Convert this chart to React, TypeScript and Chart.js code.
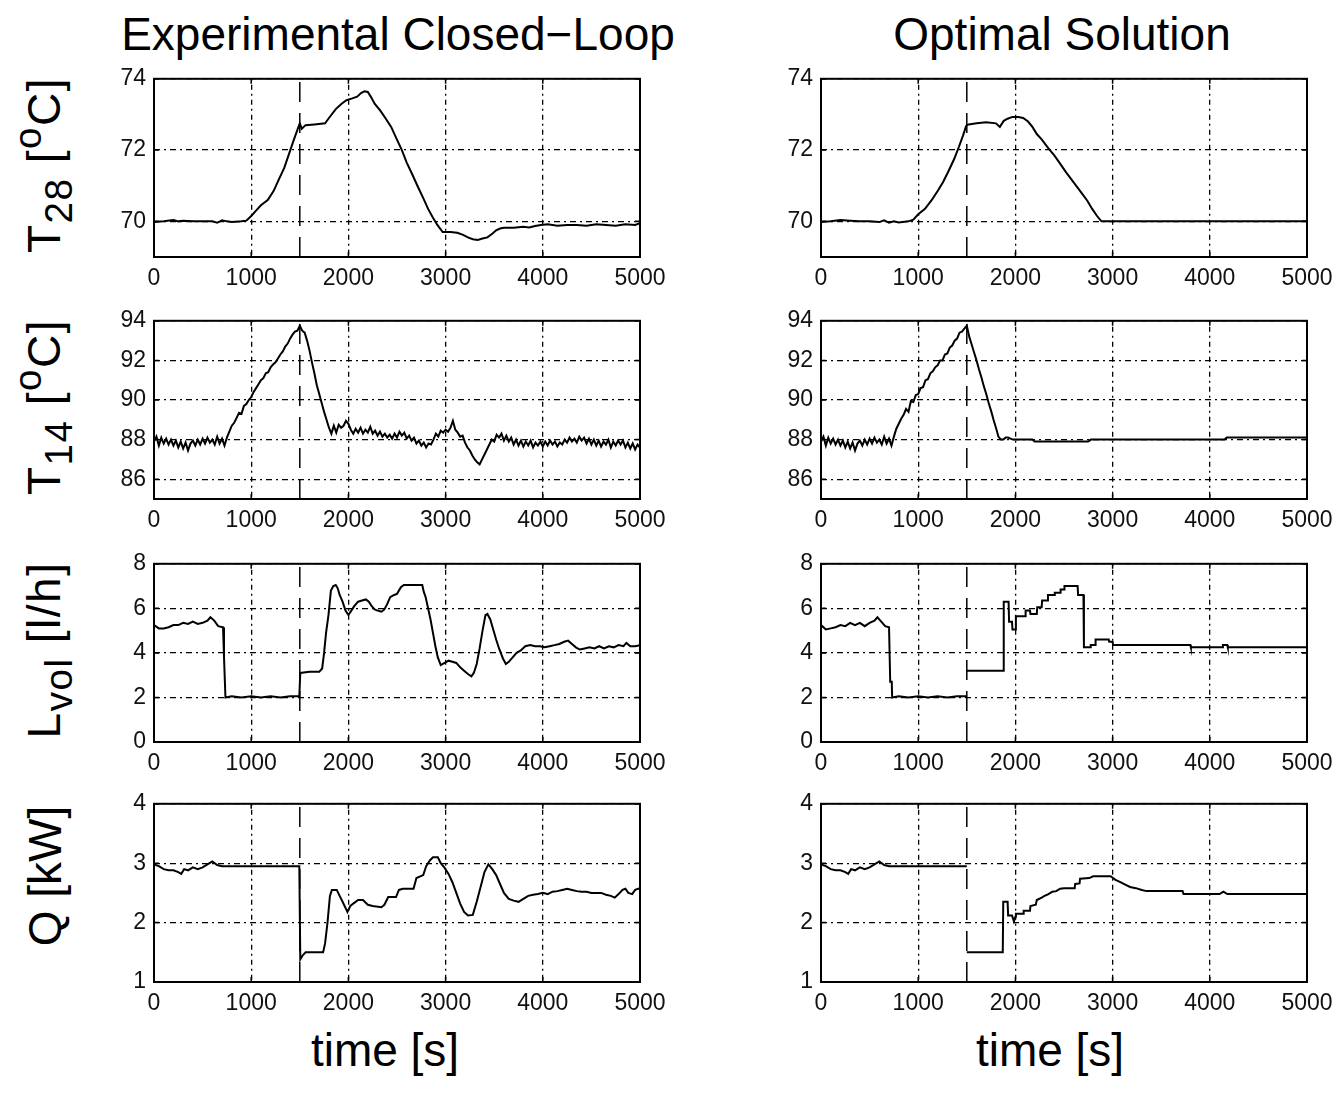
import React, { useEffect, useRef } from "react";
import { Chart, registerables } from "chart.js";

Chart.register(...registerables);

const FONT = "'Liberation Sans', Arial, Helvetica, sans-serif";
Chart.defaults.font.family = FONT;
Chart.defaults.color = "#000";

// ---------------- shared axis data ----------------
const X_TICKS = [0, 1000, 2000, 3000, 4000, 5000];
const SWITCH_TIME = 1500;

const T28_RANGE = [69, 74];
const T28_TICKS = [70, 72, 74];
const T14_RANGE = [85, 94];
const T14_TICKS = [86, 88, 90, 92, 94];
const LVOL_RANGE = [0, 8];
const LVOL_TICKS = [0, 2, 4, 6, 8];
const Q_RANGE = [1, 4];
const Q_TICKS = [1, 2, 3, 4];

const TITLES = ["Experimental Closed\u2212Loop", "Optimal Solution"];
const X_LABEL = "time [s]";

// ---------------- T28 ----------------
const T28_EXP_TIME = [
  0, 100, 200, 250, 300, 400, 500, 600, 650, 700,
  750, 800, 900, 950, 1000, 1050, 1100, 1170, 1230, 1280,
  1340, 1390, 1440, 1480, 1500, 1520, 1560, 1650, 1760, 1800,
  1870, 1930, 1980, 2040, 2090, 2130, 2165, 2200, 2230, 2270,
  2330, 2380, 2440, 2490, 2550, 2600, 2660, 2710, 2770, 2820,
  2870, 2915, 2970, 3050, 3120, 3180, 3230, 3280, 3330, 3380,
  3430, 3480, 3520, 3560, 3600, 3700, 3800, 3860, 3920, 3980,
  4050, 4150, 4250, 4350, 4450, 4550, 4650, 4750, 4850, 4950,
  5000,
];
const T28_EXP = [
  69.98, 70.0, 70.04, 70.0, 70.02, 70.0, 70.0, 70.0, 69.96, 70.03,
  70.0, 69.98, 70.0, 70.02, 70.15, 70.3, 70.45, 70.6, 70.85, 71.15,
  71.5, 71.9, 72.3, 72.6, 72.75, 72.6, 72.7, 72.72, 72.75, 72.9,
  73.15, 73.3, 73.4, 73.45, 73.5, 73.6, 73.65, 73.63, 73.5, 73.3,
  73.1, 72.9, 72.65, 72.35, 72.0, 71.65, 71.3, 71.0, 70.65, 70.35,
  70.1, 69.9, 69.7, 69.7, 69.68, 69.62, 69.55, 69.5, 69.48, 69.52,
  69.55, 69.65, 69.75, 69.8, 69.82, 69.82, 69.85, 69.83, 69.87, 69.9,
  69.92, 69.88, 69.9, 69.9, 69.88, 69.92, 69.9, 69.88, 69.92, 69.9,
  69.95,
];

const T28_OPT_TIME = [
  0, 100, 200, 300, 400, 500, 600, 650, 700, 750,
  800, 900, 950, 1000, 1070, 1140, 1200, 1255, 1310, 1370,
  1420, 1460, 1490, 1500, 1520, 1600, 1700, 1800, 1840, 1880,
  1920, 1970, 2030, 2080, 2130, 2175, 2220, 2270, 2340, 2400,
  2460, 2520, 2570, 2630, 2680, 2740, 2790, 2840, 2885, 2950,
  3500, 4000, 4500, 5000,
];
const T28_OPT = [
  69.98, 70.0, 70.04, 70.02, 70.0, 70.0, 69.98, 70.03, 69.96, 70.0,
  69.97, 70.0, 70.05, 70.2, 70.35, 70.6, 70.85, 71.1, 71.4, 71.75,
  72.1, 72.4, 72.65, 72.7, 72.72, 72.75, 72.78, 72.75, 72.65, 72.82,
  72.88, 72.93, 72.93, 72.9, 72.8, 72.65, 72.45, 72.3, 72.05, 71.85,
  71.62, 71.38, 71.2, 70.98, 70.8, 70.58, 70.35, 70.15, 70.0, 70.0,
  70.0, 70.0, 70.0, 70.0,
];

// ---------------- T14 ----------------
const T14_TIME = [
  0, 25, 50, 75, 100, 125, 150, 175, 200, 225,
  250, 275, 300, 325, 350, 375, 400, 425, 450, 475,
  500, 525, 550, 575, 600, 625, 650, 675, 700, 725,
  750, 775, 800, 825, 850, 875, 900, 925, 950, 975,
  1000, 1025, 1050, 1075, 1100, 1125, 1150, 1175, 1200, 1225,
  1250, 1275, 1300, 1325, 1350, 1375, 1400, 1425, 1450, 1475,
  1500, 1525, 1550, 1575, 1600, 1625, 1650, 1675, 1700, 1725,
  1750, 1775, 1800, 1825, 1850, 1875, 1900, 1925, 1950, 1975,
  2000, 2025, 2050, 2075, 2100, 2125, 2150, 2175, 2200, 2225,
  2250, 2275, 2300, 2325, 2350, 2375, 2400, 2425, 2450, 2475,
  2500, 2525, 2550, 2575, 2600, 2625, 2650, 2675, 2700, 2725,
  2750, 2775, 2800, 2825, 2850, 2875, 2900, 2925, 2950, 2975,
  3000, 3025, 3050, 3075, 3100, 3125, 3150, 3175, 3200, 3225,
  3250, 3275, 3300, 3325, 3350, 3375, 3400, 3425, 3450, 3475,
  3500, 3525, 3550, 3575, 3600, 3625, 3650, 3675, 3700, 3725,
  3750, 3775, 3800, 3825, 3850, 3875, 3900, 3925, 3950, 3975,
  4000, 4025, 4050, 4075, 4100, 4125, 4150, 4175, 4200, 4225,
  4250, 4275, 4300, 4325, 4350, 4375, 4400, 4425, 4450, 4475,
  4500, 4525, 4550, 4575, 4600, 4625, 4650, 4675, 4700, 4725,
  4750, 4775, 4800, 4825, 4850, 4875, 4900, 4925, 4950, 4975,
  5000,
];
const T14_EXP = [
  87.9, 88.15, 87.7, 88.1, 87.8, 88.05, 87.75, 88.0, 87.7, 87.95,
  87.6, 87.9, 87.55, 87.85, 87.45, 87.8, 87.95, 87.7, 88.0, 87.75,
  88.05, 87.8, 88.1, 87.85, 88.0, 87.75, 88.15, 87.8, 88.05, 87.7,
  88.1, 88.4, 88.7, 88.85, 89.1, 89.35, 89.3, 89.7, 89.8, 90.0,
  90.15, 90.4, 90.6, 90.8, 91.0, 91.1, 91.35, 91.4, 91.65, 91.8,
  91.9, 92.1, 92.3, 92.45, 92.7, 92.85, 93.1, 93.3, 93.45, 93.5,
  93.75, 93.5, 93.4, 93.0, 92.5, 91.9, 91.35, 90.75, 90.3, 89.85,
  89.4, 89.0, 88.6, 88.3, 88.7, 88.35, 88.75, 88.6, 88.7, 88.95,
  88.8, 88.5, 88.3, 88.55, 88.35, 88.6, 88.3, 88.5, 88.35, 88.65,
  88.3, 88.45, 88.2, 88.4, 88.15, 88.3, 88.1, 88.25, 88.05, 88.3,
  88.1, 88.4, 88.2, 88.35, 88.05, 88.2, 87.95, 88.1, 87.8, 87.95,
  87.7, 87.85, 87.6, 87.8, 87.75, 88.0, 88.3, 88.15, 88.45, 88.35,
  88.5, 88.4, 88.6, 88.95, 88.5, 88.35, 88.15, 88.2, 87.85, 87.6,
  87.45, 87.2, 87.0, 86.85, 86.75, 87.0, 87.25, 87.5, 87.75, 88.0,
  87.9, 88.25, 88.1, 88.3, 87.95, 88.2, 87.9, 88.1, 87.75, 88.0,
  87.7, 87.95, 87.65, 87.9, 87.7, 87.95, 87.6, 87.85, 87.7, 87.9,
  87.65, 87.9, 87.7, 87.95, 87.75, 87.9, 87.65, 87.85, 87.75, 88.0,
  87.85, 88.1, 87.9, 88.05, 87.85, 88.15, 87.95, 88.1, 87.8, 88.05,
  87.75, 88.0, 87.7, 87.95, 87.65, 87.9, 87.75, 88.0, 87.6, 87.9,
  87.7, 87.95, 87.75, 87.95, 87.6, 87.85, 87.55, 87.8, 87.5, 87.75,
  87.6,
];
const T14_OPT = [
  87.9, 88.15, 87.7, 88.1, 87.8, 88.05, 87.75, 88.0, 87.7, 87.95,
  87.6, 87.9, 87.55, 87.85, 87.45, 87.8, 87.95, 87.7, 88.0, 87.75,
  88.05, 87.8, 88.1, 87.85, 88.0, 87.75, 88.15, 87.8, 88.05, 87.7,
  88.15, 88.55, 88.8, 89.05, 89.25, 89.55, 89.4, 89.95, 89.9, 90.25,
  90.3, 90.6, 90.65, 91.0, 91.05, 91.35, 91.45, 91.65, 91.75, 92.0,
  92.0, 92.3, 92.35, 92.65, 92.75, 93.0, 93.1, 93.4, 93.45, 93.6,
  93.75, 93.2, 92.8, 92.4, 92.0, 91.55, 91.15, 90.7, 90.3, 89.85,
  89.45, 89.0, 88.6, 88.15, 88.0, 88.0, 88.1, 88.1, 88.05, 88.0,
  88.0, 88.0, 88.0, 88.0, 88.0, 88.0, 88.0, 88.0, 87.9, 87.9,
  87.9, 87.9, 87.9, 87.9, 87.9, 87.9, 87.9, 87.9, 87.9, 87.9,
  87.9, 87.9, 87.9, 87.9, 87.9, 87.9, 87.9, 87.9, 87.9, 87.9,
  87.9, 88.0, 88.0, 88.0, 88.0, 88.0, 88.0, 88.0, 88.0, 88.0,
  88.0, 88.0, 88.0, 88.0, 88.0, 88.0, 88.0, 88.0, 88.0, 88.0,
  88.0, 88.0, 88.0, 88.0, 88.0, 88.0, 88.0, 88.0, 88.0, 88.0,
  88.0, 88.0, 88.0, 88.0, 88.0, 88.0, 88.0, 88.0, 88.0, 88.0,
  88.0, 88.0, 88.0, 88.0, 88.0, 88.0, 88.0, 88.0, 88.0, 88.0,
  88.0, 88.0, 88.0, 88.0, 88.0, 88.0, 88.0, 88.1, 88.1, 88.1,
  88.1, 88.1, 88.1, 88.1, 88.1, 88.1, 88.1, 88.1, 88.1, 88.1,
  88.1, 88.1, 88.1, 88.1, 88.1, 88.1, 88.1, 88.1, 88.1, 88.1,
  88.1, 88.1, 88.1, 88.1, 88.1, 88.1, 88.1, 88.1, 88.1, 88.1,
  88.1,
];

// ---------------- L_vol ----------------
const LVOL_EXP_TIME = [
  0, 50, 100, 150, 200, 250, 300, 350, 400, 450,
  500, 550, 580, 620, 660, 710, 720, 735, 800, 900,
  1000, 1100, 1200, 1300, 1400, 1495, 1505, 1600, 1700, 1730,
  1750, 1770, 1795, 1820, 1845, 1870, 1890, 1910, 1940, 1970,
  2000, 2030, 2060, 2100, 2140, 2180, 2210, 2240, 2270, 2300,
  2340, 2370, 2400, 2430, 2470, 2500, 2540, 2570, 2620, 2700,
  2760, 2775, 2795, 2820, 2845, 2870, 2895, 2920, 2950, 2990,
  3030, 3070, 3110, 3150, 3190, 3230, 3265, 3290, 3320, 3350,
  3380, 3410, 3430, 3460, 3490, 3520, 3550, 3590, 3620, 3650,
  3690, 3730, 3770, 3820, 3870, 3920, 3970, 4020, 4070, 4120,
  4170, 4220, 4260, 4300, 4340, 4380, 4430, 4480, 4530, 4580,
  4630, 4680, 4730, 4780, 4830, 4860, 4900, 4950, 5000,
];
const LVOL_EXP = [
  5.25, 5.1, 5.1, 5.15, 5.25, 5.25, 5.35, 5.3, 5.4, 5.3,
  5.35, 5.45, 5.6, 5.45, 5.2, 5.15, 3.85, 2.0, 2.05, 2.0,
  2.05, 2.0, 2.05, 2.0, 2.05, 2.05, 3.1, 3.15, 3.15, 3.3,
  4.0, 4.9, 5.7, 6.8, 7.0, 7.05, 6.9, 6.6, 6.3, 5.9,
  5.7, 5.9, 6.1, 6.3, 6.35, 6.4, 6.3, 6.1, 5.95, 5.9,
  5.85, 5.95, 6.2, 6.5, 6.6, 6.65, 6.95, 7.05, 7.05, 7.05,
  7.05, 6.75, 6.5, 6.0, 5.5, 4.9, 4.3, 3.8, 3.45, 3.55,
  3.65, 3.6, 3.55, 3.35, 3.2, 3.05, 2.95, 3.1, 3.5, 4.2,
  5.0, 5.7, 5.75, 5.5, 5.05, 4.6, 4.2, 3.75, 3.5, 3.6,
  3.8, 4.0, 4.1, 4.3, 4.35, 4.3, 4.3, 4.25, 4.3, 4.35,
  4.4, 4.5, 4.55, 4.4, 4.25, 4.15, 4.2, 4.25, 4.2, 4.3,
  4.2, 4.3, 4.25, 4.35, 4.3, 4.45, 4.3, 4.3, 4.35,
];

const LVOL_OPT_TIME = [
  0, 50, 100, 150, 200, 250, 300, 350, 400, 450,
  500, 550, 580, 620, 660, 700, 712, 728, 732, 800,
  900, 1000, 1100, 1200, 1300, 1400, 1500, 1500, 1500, 1875,
  1880, 1930, 1935, 1965, 1970, 2000, 2005, 2100, 2105, 2150,
  2155, 2220, 2225, 2270, 2275, 2330, 2335, 2400, 2405, 2460,
  2465, 2500, 2505, 2640, 2645, 2700, 2705, 2770, 2775, 2820,
  2825, 2960, 2965, 3000, 3005, 3800, 3805, 4130, 4135, 4180,
  4185, 5000,
];
const LVOL_OPT = [
  5.25, 5.05, 5.1, 5.15, 5.25, 5.2, 5.35, 5.25, 5.35, 5.2,
  5.35, 5.45, 5.6, 5.4, 5.2, 5.15, 2.7, 2.7, 2.0, 2.05,
  2.0, 2.05, 2.0, 2.05, 2.0, 2.05, 2.05, null, 3.2, 3.2,
  6.3, 6.3, 5.4, 5.4, 5.05, 5.05, 5.65, 5.65, 5.9, 5.9,
  5.75, 5.75, 6.05, 6.05, 6.35, 6.35, 6.6, 6.6, 6.7, 6.7,
  6.85, 6.85, 7.0, 7.0, 6.6, 6.6, 4.25, 4.25, 4.35, 4.35,
  4.6, 4.6, 4.5, 4.5, 4.35, 4.35, 4.25, 4.25, 4.35, 4.35,
  4.25, 4.25,
];

// ---------------- Q ----------------
const Q_EXP_TIME = [
  0, 50, 100, 150, 200, 250, 280, 310, 350, 400,
  450, 500, 550, 600, 650, 700, 800, 900, 1000, 1100,
  1200, 1300, 1400, 1495, 1505, 1530, 1560, 1740, 1760, 1785,
  1810, 1830, 1880, 1910, 1940, 1990, 2020, 2050, 2100, 2150,
  2200, 2250, 2340, 2370, 2410, 2490, 2520, 2560, 2670, 2700,
  2770, 2800, 2840, 2870, 2920, 2950, 2990, 3030, 3070, 3110,
  3150, 3190, 3230, 3280, 3320, 3360, 3400, 3440, 3480, 3520,
  3560, 3600, 3650, 3700, 3750, 3800, 3850, 3900, 3950, 4000,
  4050, 4100, 4150, 4200, 4250, 4300, 4350, 4400, 4450, 4500,
  4550, 4600, 4650, 4700, 4740, 4780, 4820, 4850, 4880, 4920,
  4950, 5000,
];
const Q_EXP = [
  2.98, 2.95, 2.9, 2.88, 2.88, 2.85, 2.82, 2.9, 2.88, 2.93,
  2.9, 2.93, 2.98, 3.03, 2.97, 2.95, 2.95, 2.95, 2.95, 2.95,
  2.95, 2.95, 2.95, 2.95, 1.38, 1.45, 1.5, 1.5, 1.65, 2.0,
  2.45, 2.55, 2.55, 2.45, 2.35, 2.18, 2.28, 2.32, 2.38, 2.38,
  2.3, 2.28, 2.26, 2.3, 2.43, 2.43, 2.55, 2.57, 2.57, 2.75,
  2.8, 2.95, 3.05, 3.1, 3.1, 3.0, 2.92, 2.82, 2.68, 2.5,
  2.32, 2.18, 2.12, 2.13, 2.35, 2.6, 2.85, 2.98, 2.9, 2.8,
  2.65, 2.5, 2.4, 2.37, 2.35, 2.4, 2.45, 2.47, 2.48, 2.5,
  2.48, 2.52, 2.53, 2.55, 2.57, 2.55, 2.53, 2.52, 2.52, 2.5,
  2.5, 2.5, 2.47, 2.45, 2.42, 2.48, 2.55, 2.57, 2.5, 2.48,
  2.55, 2.58,
];

const Q_OPT_TIME = [
  0, 50, 100, 150, 200, 250, 280, 310, 350, 400,
  450, 500, 550, 600, 650, 700, 800, 900, 1000, 1100,
  1200, 1300, 1400, 1500, 1500, 1500, 1870, 1875, 1920, 1925,
  1965, 1985, 2000, 2005, 2080, 2085, 2150, 2155, 2210, 2220,
  2270, 2300, 2340, 2380, 2420, 2460, 2500, 2610, 2615, 2660,
  2665, 2760, 2800, 2980, 3030, 3080, 3130, 3180, 3240, 3300,
  3350, 3720, 3730, 4100, 4140, 4180, 5000,
];
const Q_OPT = [
  2.98, 2.95, 2.9, 2.88, 2.88, 2.85, 2.82, 2.9, 2.88, 2.93,
  2.9, 2.93, 2.98, 3.03, 2.97, 2.95, 2.95, 2.95, 2.95, 2.95,
  2.95, 2.95, 2.95, 2.95, null, 1.5, 1.5, 2.35, 2.35, 2.12,
  2.12, 2.02, 2.1, 2.15, 2.15, 2.2, 2.2, 2.28, 2.3, 2.38,
  2.42, 2.45, 2.48, 2.52, 2.53, 2.57, 2.58, 2.58, 2.65, 2.66,
  2.74, 2.75, 2.78, 2.78, 2.72, 2.68, 2.64, 2.6, 2.58, 2.55,
  2.53, 2.53, 2.48, 2.48, 2.52, 2.48, 2.48,
];

// ---------------- layout ----------------
const COL_LEFT = [154, 821];
const ROW_TOP = [73, 315, 558, 798];
const PLOT_W = 486;
const PLOT_H = 184;
const PAD_L = 70;
const PAD_T = 16;
const PAD_R = 40;
const PAD_B = 46;

type PanelSpec = {
  time: number[];
  values: (number | null)[];
  range: number[];
  yTicks: number[];
  col: number;
  row: number;
};

const PANELS: PanelSpec[] = [
  { time: T28_EXP_TIME, values: T28_EXP, range: T28_RANGE, yTicks: T28_TICKS, col: 0, row: 0 },
  { time: T28_OPT_TIME, values: T28_OPT, range: T28_RANGE, yTicks: T28_TICKS, col: 1, row: 0 },
  { time: T14_TIME, values: T14_EXP, range: T14_RANGE, yTicks: T14_TICKS, col: 0, row: 1 },
  { time: T14_TIME, values: T14_OPT, range: T14_RANGE, yTicks: T14_TICKS, col: 1, row: 1 },
  { time: LVOL_EXP_TIME, values: LVOL_EXP, range: LVOL_RANGE, yTicks: LVOL_TICKS, col: 0, row: 2 },
  { time: LVOL_OPT_TIME, values: LVOL_OPT, range: LVOL_RANGE, yTicks: LVOL_TICKS, col: 1, row: 2 },
  { time: Q_EXP_TIME, values: Q_EXP, range: Q_RANGE, yTicks: Q_TICKS, col: 0, row: 3 },
  { time: Q_OPT_TIME, values: Q_OPT, range: Q_RANGE, yTicks: Q_TICKS, col: 1, row: 3 },
];

const framePlugin = {
  id: "matlabFrame",
  afterDraw(chart: any) {
    const { ctx, chartArea, scales } = chart;
    const { left, top, right, bottom } = chartArea;
    ctx.save();
    ctx.setLineDash([]);
    ctx.strokeStyle = "#000";
    ctx.lineWidth = 1.5;
    ctx.beginPath();
    for (const t of scales.x.ticks) {
      const px = scales.x.getPixelForValue(t.value);
      ctx.moveTo(px, bottom);
      ctx.lineTo(px, bottom - 5);
      ctx.moveTo(px, top);
      ctx.lineTo(px, top + 5);
    }
    for (const t of scales.y.ticks) {
      const py = scales.y.getPixelForValue(t.value);
      ctx.moveTo(left, py);
      ctx.lineTo(left + 5, py);
      ctx.moveTo(right, py);
      ctx.lineTo(right - 5, py);
    }
    ctx.stroke();
    ctx.lineWidth = 2;
    ctx.strokeRect(left, top, right - left, bottom - top);
    ctx.restore();
  },
};

function Panel({ spec }: { spec: PanelSpec }) {
  const ref = useRef<HTMLCanvasElement>(null);
  const W = PAD_L + PLOT_W + PAD_R;
  const H = PAD_T + PLOT_H + PAD_B;
  useEffect(() => {
    if (!ref.current) return;
    const [yMin, yMax] = spec.range;
    const chart = new Chart(ref.current, {
      type: "line",
      data: {
        datasets: [
          {
            data: spec.time.map((t, i) => ({ x: t, y: spec.values[i] })) as any,
            borderColor: "#000",
            borderWidth: 2,
            pointRadius: 0,
            tension: 0,
            spanGaps: false,
            fill: false,
          },
          {
            data: [
              { x: SWITCH_TIME, y: yMin },
              { x: SWITCH_TIME, y: yMax },
            ],
            borderColor: "#000",
            borderWidth: 1.5,
            borderDash: [20, 11],
            pointRadius: 0,
            fill: false,
          },
        ],
      },
      options: {
        animation: false,
        responsive: false,
        maintainAspectRatio: false,
        events: [],
        layout: { padding: { left: 0, top: PAD_T, right: PAD_R, bottom: 0 } },
        plugins: {
          legend: { display: false },
          tooltip: { enabled: false },
        },
        scales: {
          x: {
            type: "linear",
            min: 0,
            max: 5000,
            afterBuildTicks: (axis: any) => {
              axis.ticks = X_TICKS.map((v) => ({ value: v }));
            },
            afterFit: (s: any) => {
              s.height = PAD_B;
            },
            ticks: {
              callback: (v: any) => String(v),
              font: { size: 23, family: FONT },
              color: "#111",
              padding: 8,
              maxRotation: 0,
              autoSkip: false,
            },
            grid: { color: "#000", lineWidth: 1.3, drawTicks: false },
            border: { display: false, dash: [2, 4, 5, 4] },
          },
          y: {
            type: "linear",
            min: yMin,
            max: yMax,
            afterBuildTicks: (axis: any) => {
              axis.ticks = spec.yTicks.map((v) => ({ value: v }));
            },
            afterFit: (s: any) => {
              s.width = PAD_L;
            },
            ticks: {
              callback: (v: any) => String(v),
              font: { size: 23, family: FONT },
              color: "#111",
              padding: 8,
            },
            grid: { color: "#000", lineWidth: 1.3, drawTicks: false },
            border: { display: false, dash: [6, 4, 2, 4] },
          },
        },
      } as any,
      plugins: [framePlugin],
    });
    return () => chart.destroy();
  }, [spec]);
  return (
    <canvas
      ref={ref}
      width={W}
      height={H}
      style={{
        position: "absolute",
        left: COL_LEFT[spec.col] - PAD_L,
        top: ROW_TOP[spec.row] - PAD_T,
        width: W,
        height: H,
      }}
    />
  );
}

const subStyle: React.CSSProperties = { fontSize: "0.84em", position: "relative", top: "0.3em" };
const supStyle: React.CSSProperties = { fontSize: "0.84em", position: "relative", top: "-0.5em" };

const Y_LABELS = [
  <>T<span style={subStyle}>28</span> [<span style={supStyle}>o</span>C]</>,
  <>T<span style={subStyle}>14</span> [<span style={supStyle}>o</span>C]</>,
  <>L<span style={subStyle}>vol</span> [l/h]</>,
  <>Q [kW]</>,
];
const Y_LABEL_SPACING = [1.5, 1.5, 1.5, 0];
const Y_LABEL_SHIFT = [0, 0, 0, -14];

export default function App() {
  const textBase: React.CSSProperties = {
    position: "absolute",
    fontFamily: FONT,
    fontSize: 46,
    lineHeight: "46px",
    whiteSpace: "nowrap",
    color: "#000",
  };
  return (
    <div
      style={{
        position: "absolute",
        left: 0,
        top: 0,
        width: 1337,
        height: 1106,
        background: "#fff",
        overflow: "hidden",
      }}
    >
      {TITLES.map((t, c) => (
        <div
          key={"title" + c}
          style={{ ...textBase, left: [398, 1062][c], top: 11, transform: "translateX(-50%)" }}
        >
          {t}
        </div>
      ))}
      {[385, 1050].map((cx, c) => (
        <div key={"xl" + c} style={{ ...textBase, left: cx, top: 1027, transform: "translateX(-50%)" }}>
          {X_LABEL}
        </div>
      ))}
      {Y_LABELS.map((lab, r) => (
        <div
          key={"yl" + r}
          style={{
            ...textBase,
            left: 45,
            top: ROW_TOP[r] + PLOT_H / 2 + Y_LABEL_SHIFT[r],
            letterSpacing: Y_LABEL_SPACING[r],
            transform: "translate(-50%, -50%) rotate(-90deg)",
          }}
        >
          {lab}
        </div>
      ))}
      {PANELS.map((p, i) => (
        <Panel key={i} spec={p} />
      ))}
    </div>
  );
}
